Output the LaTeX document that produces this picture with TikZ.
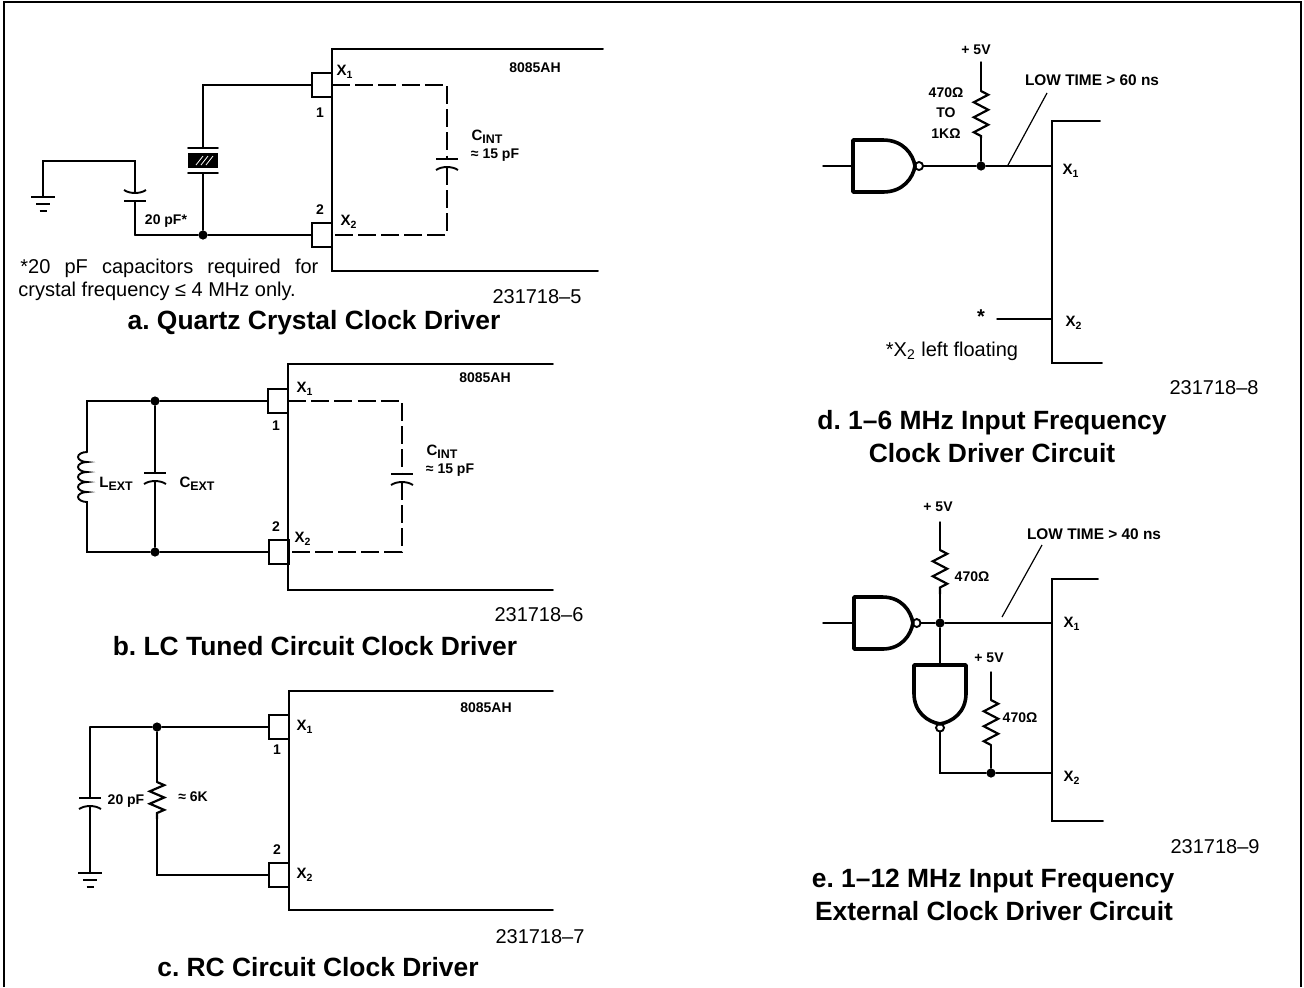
\documentclass[tikz,border=0pt]{standalone}
\usepackage{fontspec}
\setmainfont{Liberation Sans}
\usetikzlibrary{decorations.pathmorphing}
\newcommand{\capsub}[1]{\raisebox{-1.6pt}{\fontsize{6.2}{7}\selectfont #1}}
\tikzset{
  wire/.style={line width=0.95pt,line cap=round,line join=miter},
  thinwire/.style={line width=0.75pt,line cap=round},
  dashwire/.style={line width=0.95pt,dash pattern=on 9pt off 2.6pt},
  leader/.style={line width=0.6pt},
  pinbox/.style={draw,line width=0.95pt,minimum width=10pt,minimum height=12pt,inner sep=0pt,outer sep=0pt},
  dotnode/.style={circle,fill,inner sep=0pt,minimum size=4.6pt},
  tag/.style={font=\bfseries\fontsize{7}{8}\selectfont,inner sep=0pt},
  lbl/.style={font=\bfseries\fontsize{7.5}{9}\selectfont,inner sep=0pt},
  lowtag/.style={font=\bfseries\fontsize{7.7}{9}\selectfont,inner sep=0pt},
  plain/.style={font=\fontsize{10}{12}\selectfont,inner sep=0pt},
  title/.style={font=\bfseries\fontsize{13.2}{16}\selectfont,inner sep=0pt},
  zig/.style={decorate,decoration={zigzag,segment length=7.5pt,amplitude=3.6pt}},
  capsym/.pic={
    \coordinate (-p) at (0,-4);
    \coordinate (-q) at (0,4);
    \draw[line width=0.95pt] (-11,-4) -- (11,-4);
    \draw[line width=0.95pt] (-11,7) .. controls (-5,3) and (5,3) .. (11,7);
  },
  gndsym/.pic={
    \draw[line width=0.95pt] (-12,0) -- (12,0);
    \draw[line width=0.95pt] (-7,7) -- (7,7);
    \draw[line width=0.95pt] (-3.5,14) -- (3.5,14);
  },
  gatesym/.pic={
    \coordinate (-i) at (0,0);
    \coordinate (-o) at (70,0);
    \draw[line width=1.8pt,line join=round] (0,-26) -- (30,-26)
      .. controls (50,-26) and (60,-12) .. (62,0)
      .. controls (60,12) and (50,26) .. (30,26) -- (0,26) -- cycle;
    \draw[line width=0.95pt] (66,0) circle (2pt);
  },
}
\begin{document}
\begin{tikzpicture}[x=0.5pt,y=-0.5pt]
  \useasboundingbox (0,0) rectangle (1304,987);
  \draw[line width=0.9pt] (4,987) -- (4,2) -- (1301,2) -- (1301,987);

  % a
  \node[pinbox] (apin1) at (322,85) {};
  \node[pinbox] (apin2) at (322,235) {};
  \coordinate (achipa) at (603,49);
  \coordinate (achipb) at (332,49);
  \coordinate (achipc) at (332,271);
  \coordinate (achipd) at (598,271);
  \draw[wire] (achipa) -- (achipb) -- (achipc) -- (achipd);
  \coordinate (acrya) at (203,85);
  \node[dotnode] (adot) at (203,235) {};
  \draw[wire] (apin1.west) -- (acrya) -- (203,148);
  \draw[wire] (188,148) -- (218,148);
  \node[fill=black,minimum width=15pt,minimum height=7.5pt,inner sep=0pt] (acry) at (203,160.5) {};
  \draw[white,line width=0.4pt] (196,165) -- (203,156) (201,165) -- (208,156) (206,165) -- (213,156);
  \draw[wire] (188,173) -- (218,173);
  \draw[wire] (203,173) -- (adot);
  \draw[wire] (apin2.west) -- (adot) -- (135,235) coordinate (acapb);
  \pic[yscale=-1] (acap) at (135,197) {capsym};
  \draw[wire] (acapb) -- (acap-p);
  \coordinate (agnda) at (43,161);
  \coordinate (agndb) at (43,197);
  \draw[wire] (acap-q) -- (135,161) -- (agnda) -- (agndb);
  \pic at (agndb) {gndsym};
  \coordinate (acinta) at (447,85);
  \coordinate (acintb) at (447,235);
  \pic (acint) at (447,163) {capsym};
  \draw[dashwire] (apin1.east) -- (acinta) -- (acint-p);
  \draw[dashwire] (acint-q) -- (acintb) -- (apin2.east);
  \node[tag] (akind) at (535,68) {8085AH};
  \node[lbl] (ax1) at (345,72) {X\textsubscript{1}};
  \node[lbl] (ax2) at (349,222) {X\textsubscript{2}};
  \node[tag] (an1) at (320,113) {1};
  \node[tag] (an2) at (320,210) {2};
  \node[lbl] (acintt) at (487,137) {C\capsub{INT}};
  \node[tag] (acintv) at (495,155) {≈ 15 pF};
  \node[tag] (acapv) at (166,221) {20 pF*};
  \node[plain,anchor=west] (anotea) at (20,268) {\makebox[149pt][s]{*20 pF capacitors required for}};
  \node[plain,anchor=west] (anoteb) at (18,291) {crystal frequency ≤ 4 MHz only.};
  \node[plain] (aid) at (537,297) {231718–5};
  \node[title] (atitle) at (314,323) {a.\ Quartz Crystal Clock Driver};

  % b
  \node[pinbox] (bpin1) at (278,401) {};
  \node[pinbox] (bpin2) at (279,552) {};
  \coordinate (bchipa) at (553,364);
  \coordinate (bchipb) at (288,364);
  \coordinate (bchipc) at (288,590);
  \coordinate (bchipd) at (553,590);
  \draw[wire] (bchipa) -- (bchipb) -- (bchipc) -- (bchipd);
  \node[dotnode] (bdota) at (155,401) {};
  \node[dotnode] (bdotb) at (155,552) {};
  \coordinate (bcoila) at (87,401);
  \coordinate (bcoilb) at (87,552);
  \draw[wire] (bpin1.west) -- (bdota) -- (bcoila) -- (87,452);
  \draw[wire,decorate,decoration={bumps,segment length=10pt,amplitude=-4.5pt}] (87,452) -- (87,506);
  \draw[wire] (87,506) -- (bcoilb) -- (bdotb) -- (bpin2.west);
  \pic (bcap) at (155,477) {capsym};
  \draw[wire] (bdota) -- (bcap-p);
  \draw[wire] (bcap-q) -- (bdotb);
  \coordinate (bcinta) at (402,401);
  \coordinate (bcintb) at (402,552);
  \pic (bcint) at (402,478) {capsym};
  \draw[dashwire] (bpin1.east) -- (bcinta) -- (bcint-p);
  \draw[dashwire] (bcint-q) -- (bcintb) -- (bpin2.east);
  \node[tag] (bkind) at (485,378) {8085AH};
  \node[lbl] (bx1) at (305,389) {X\textsubscript{1}};
  \node[lbl] (bx2) at (303,539) {X\textsubscript{2}};
  \node[tag] (bn1) at (276,426) {1};
  \node[tag] (bn2) at (276,527) {2};
  \node[lbl] (blext) at (116,484) {L\capsub{EXT}};
  \node[lbl] (bcext) at (197,484) {C\capsub{EXT}};
  \node[lbl] (bcintt) at (442,452) {C\capsub{INT}};
  \node[tag] (bcintv) at (450,470) {≈ 15 pF};
  \node[plain] (bid) at (539,615) {231718–6};
  \node[title] (btitle) at (315,646) {b.\ LC Tuned Circuit Clock Driver};

  % c
  \node[pinbox] (cpin1) at (279,727) {};
  \node[pinbox] (cpin2) at (279,875) {};
  \coordinate (cchipa) at (553,691);
  \coordinate (cchipb) at (289,691);
  \coordinate (cchipc) at (289,910);
  \coordinate (cchipd) at (553,910);
  \draw[wire] (cchipa) -- (cchipb) -- (cchipc) -- (cchipd);
  \node[dotnode] (cdot) at (157,727) {};
  \coordinate (ccapa) at (90,727);
  \coordinate (cgnd) at (90,873);
  \coordinate (cresa) at (157,782);
  \coordinate (cresb) at (157,819);
  \coordinate (cresc) at (157,875);
  \draw[wire] (cpin1.west) -- (cdot) -- (ccapa);
  \pic (ccap) at (90,802) {capsym};
  \draw[wire] (ccapa) -- (ccap-p);
  \draw[wire] (ccap-q) -- (cgnd);
  \pic at (cgnd) {gndsym};
  \draw[wire] (cdot) -- (cresa);
  \draw[thinwire,zig,line width=1.1pt,decoration={segment length=6.2pt}] (cresa) -- (cresb);
  \draw[wire] (cresb) -- (cresc) -- (cpin2.west);
  \node[tag] (ckind) at (486,708) {8085AH};
  \node[lbl] (cx1) at (305,727) {X\textsubscript{1}};
  \node[lbl] (cx2) at (305,875) {X\textsubscript{2}};
  \node[tag] (cn1) at (277,750) {1};
  \node[tag] (cn2) at (277,850) {2};
  \node[tag] (ccapv) at (126,801) {20 pF};
  \node[tag] (cresv) at (193,797) {≈ 6K};
  \node[plain] (cid) at (540,937) {231718–7};
  \node[title] (ctitle) at (318,967) {c.\ RC Circuit Clock Driver};

  % d
  \coordinate (dchipa) at (1100,121);
  \coordinate (dchipb) at (1052,121);
  \coordinate (dchipc) at (1052,363);
  \coordinate (dchipd) at (1102,363);
  \draw[wire] (dchipa) -- (dchipb) -- (dchipc) -- (dchipd);
  \coordinate (din) at (823,166);
  \pic (dgate) at (853,166) {gatesym};
  \node[dotnode] (ddot) at (981,166) {};
  \coordinate (dx1) at (1052,166);
  \draw[thinwire] (din) -- (dgate-i);
  \draw[thinwire] (dgate-o) -- (ddot) -- (dx1);
  \coordinate (dresa) at (981,62);
  \coordinate (dresb) at (981,91);
  \coordinate (dresc) at (981,138);
  \draw[thinwire] (dresa) -- (dresb);
  \draw[thinwire,zig,line width=1.1pt] (dresb) -- (dresc);
  \draw[thinwire] (dresc) -- (ddot);
  \coordinate (dlowa) at (1008,165);
  \coordinate (dlowb) at (1047,93);
  \draw[leader] (dlowa) -- (dlowb);
  \node[inner sep=0pt] (dstar) at (981,317) {\bfseries *};
  \coordinate (dfloat) at (997,319);
  \coordinate (dx2) at (1052,319);
  \draw[thinwire] (dfloat) -- (dx2);
  \node[tag] (dvcc) at (976,50) {+ 5V};
  \node[tag,align=center,font=\bfseries\fontsize{7}{10.3}\selectfont] (dres) at (946,113) {470Ω\\TO\\1KΩ};
  \node[lowtag] (dlow) at (1092,80) {LOW TIME > 60 ns};
  \node[lbl] (dxa) at (1071,171) {X\textsubscript{1}};
  \node[lbl] (dxb) at (1074,323) {X\textsubscript{2}};
  \node[plain] (dnote) at (952,351) {*X\textsubscript{2} left floating};
  \node[plain] (did) at (1214,388) {231718–8};
  \node[title] (dtitlea) at (992,423) {d.\ 1–6 MHz Input Frequency};
  \node[title] (dtitleb) at (992,453) {Clock Driver Circuit};

  % e
  \coordinate (echipa) at (1098,579);
  \coordinate (echipb) at (1052,579);
  \coordinate (echipc) at (1052,821);
  \coordinate (echipd) at (1103,821);
  \draw[wire] (echipa) -- (echipb) -- (echipc) -- (echipd);
  \coordinate (ein) at (823,623);
  \pic[xscale=0.95] (egatea) at (854,623) {gatesym};
  \node[dotnode] (edota) at (940,623) {};
  \coordinate (ex1) at (1052,623);
  \draw[thinwire] (ein) -- (egatea-i);
  \draw[thinwire] (egatea-o) -- (edota) -- (ex1);
  \coordinate (eresa) at (940,522);
  \coordinate (eresb) at (940,550);
  \coordinate (eresc) at (940,594);
  \draw[thinwire] (eresa) -- (eresb);
  \draw[thinwire,zig,line width=1.1pt] (eresb) -- (eresc);
  \draw[thinwire] (eresc) -- (edota);
  \pic[rotate=-90,xscale=0.95] (egateb) at (940,665) {gatesym};
  \draw[thinwire] (edota) -- (egateb-i);
  \node[dotnode] (edotb) at (991,773) {};
  \coordinate (ex2a) at (940,773);
  \coordinate (ex2) at (1052,773);
  \draw[thinwire] (egateb-o) -- (ex2a) -- (edotb) -- (ex2);
  \coordinate (eresd) at (991,672);
  \coordinate (erese) at (991,700);
  \coordinate (eresf) at (991,745);
  \draw[thinwire] (eresd) -- (erese);
  \draw[thinwire,zig,line width=1.1pt] (erese) -- (eresf);
  \draw[thinwire] (eresf) -- (edotb);
  \coordinate (elowa) at (1002,617);
  \coordinate (elowb) at (1042,545);
  \draw[leader] (elowa) -- (elowb);
  \node[tag] (evcca) at (938,507) {+ 5V};
  \node[tag] (evccb) at (989,658) {+ 5V};
  \node[tag] (eresva) at (972,577) {470Ω};
  \node[tag] (eresvb) at (1020,718) {470Ω};
  \node[lowtag] (elow) at (1094,534) {LOW TIME > 40 ns};
  \node[lbl] (exa) at (1072,624) {X\textsubscript{1}};
  \node[lbl] (exb) at (1072,778) {X\textsubscript{2}};
  \node[plain] (eid) at (1215,847) {231718–9};
  \node[title] (etitlea) at (993,881) {e.\ 1–12 MHz Input Frequency};
  \node[title] (etitleb) at (994,911) {External Clock Driver Circuit};
\end{tikzpicture}
\end{document}
